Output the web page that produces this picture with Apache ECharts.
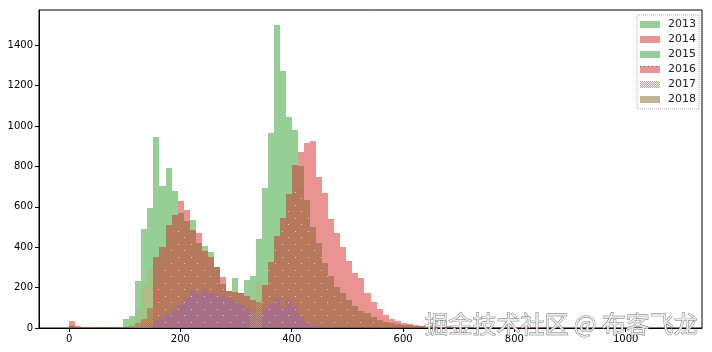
<!DOCTYPE html>
<html><head><meta charset="utf-8">
<script src="https://cdn.jsdelivr.net/npm/echarts@6/dist/echarts.min.js"></script>
<style>html,body{margin:0;padding:0;background:#fff}#c{width:712px;height:352px}</style>
</head><body><div id="c"></div>
<script>
// histogram bins: 100 bins from 0 to 1083
const binStart = 0;
const binWidth = 10.83;
const xTicks = [0, 200, 400, 600, 800, 1000];
const yTicks = [0, 200, 400, 600, 800, 1000, 1200, 1400];
const years = ['2013', '2014', '2015', '2016', '2017', '2018'];

const counts2013 = [12,6,4,3,3,3,3,4,6,45,
 58,233,490,593,945,703,790,680,568,530,
 534,420,406,378,303,220,185,247,173,237,
 257,440,691,966,1500,1272,1046,980,800,633,
 501,420,320,260,204,172,140,107,85,73,
 55,40,32,25,20,16,13,11,9,8,
 7,6,6,5,5,4,4,4,3,3,
 3,3,2,2,2,2,2,2,1,1,
 1,1,1,1,1,1,1,1,1,1,
 1,1,1,1,1,1,1,1,1,1];
const counts2014 = [35,10,5,3,3,3,3,3,4,6,
 12,25,45,100,350,400,510,562,630,584,
 485,470,380,350,303,251,185,180,173,160,
 140,130,213,327,455,544,663,806,872,917,
 925,749,667,540,470,400,330,270,250,175,
 130,95,65,45,35,25,20,15,12,12,
 12,10,10,10,9,8,7,7,6,6,
 5,5,4,4,4,3,3,3,3,3,
 2,2,2,2,2,2,2,2,2,2,
 1,1,1,1,1,1,1,1,1,1];
const counts2015 = [8,4,3,2,2,2,2,2,3,4,
 5,0,0,0,0,0,0,0,0,0,
 0,0,0,0,0,0,0,0,0,0,
 0,0,0,0,0,0,0,0,0,0,
 0,0,0,0,0,0,0,0,0,0,
 0,0,0,0,0,0,0,0,0,0,
 0,0,0,0,0,0,0,0,0,0,
 0,0,0,0,0,0,0,0,0,0,
 0,0,0,0,0,0,0,0,0,0,
 0,0,0,0,0,0,0,0,0,0];
const counts2016 = [20,0,0,0,0,0,0,0,0,0,
 0,0,0,60,250,330,420,450,480,460,
 420,380,340,300,260,200,160,150,140,120,
 100,90,180,300,420,500,600,700,700,560,
 440,370,280,230,180,150,120,95,75,60,
 45,35,25,20,15,12,10,8,6,5,
 3,3,2,2,1,1,0,0,0,0,
 0,0,0,0,0,0,0,0,0,0,
 0,0,0,0,0,0,0,0,0,0,
 0,0,0,0,0,0,0,0,0,0];
const counts2017 = [0,0,0,0,0,0,0,0,0,0,
 20,100,222,295,0,0,0,0,0,0,
 0,0,0,0,0,0,0,0,0,0,
 80,234,0,0,0,0,0,0,0,0,
 0,0,0,0,0,0,0,0,0,0,
 0,0,0,0,0,0,0,0,0,0,
 0,0,0,0,0,0,0,0,0,0,
 0,0,0,0,0,0,0,0,0,0,
 0,0,0,0,0,0,0,0,0,0,
 0,0,0,0,0,0,0,0,0,0];
const counts2018 = [0,0,0,0,0,0,0,0,0,0,
 2,5,10,20,35,50,70,90,115,150,
 185,170,190,175,170,160,150,135,115,95,
 80,70,95,120,150,100,145,110,60,30,
 15,8,5,3,2,1,0,0,0,0,
 0,0,0,0,0,0,0,0,0,0,
 0,0,0,0,0,0,0,0,0,0,
 0,0,0,0,0,0,0,0,0,0,
 0,0,0,0,0,0,0,0,0,0,
 0,0,0,0,0,0,0,0,0,0];

function makePattern(size, pts, color) {
  const cv = document.createElement('canvas');
  cv.width = size; cv.height = size;
  const ctx = cv.getContext('2d');
  ctx.fillStyle = color;
  pts.forEach(p => ctx.fillRect(p[0], p[1], 1, 1));
  return cv;
}
const dotPattern = makePattern(13, [[2,3],[9,10]], 'rgba(255,220,180,0.85)');
const hatchPattern = makePattern(2, [[0,0],[1,1]], 'rgba(185,170,95,0.6)');
const legendDotPattern = (function () {
  const cv = document.createElement('canvas');
  cv.width = 4; cv.height = 7;
  const ctx = cv.getContext('2d');
  ctx.fillStyle = 'rgb(234,148,148)';
  ctx.fillRect(0, 0, 4, 7);
  ctx.fillStyle = 'rgb(150,90,90)';
  ctx.fillRect(0, 0, 1, 1);
  return cv;
})();
const legendHatchPattern = (function () {
  const cv = document.createElement('canvas');
  cv.width = 2; cv.height = 2;
  const ctx = cv.getContext('2d');
  ctx.fillStyle = '#f2efe6';
  ctx.fillRect(0, 0, 2, 2);
  ctx.fillStyle = '#b8aa8c';
  ctx.fillRect(0, 0, 1, 1); ctx.fillRect(1, 1, 1, 1);
  return cv;
})();

function toData(arr) {
  return arr.map((v, k) => [binStart + k * binWidth, binStart + (k + 1) * binWidth, v]);
}
function makeRender(fill, pattern) {
  return function (params, api) {
    const v = api.value(2);
    if (!v) return null;
    const a = api.coord([api.value(0), v]);
    const b = api.coord([api.value(1), 0]);
    const X0 = Math.round(a[0]), X1 = Math.round(b[0]);
    const Y0 = Math.round(a[1]), Y1 = Math.round(b[1]);
    const shape = { x: X0, y: Y0, width: X1 - X0, height: Y1 - Y0 };
    const children = [];
    if (fill) children.push({ type: 'rect', shape: shape, style: { fill: fill } });
    if (pattern) children.push({ type: 'rect', shape: shape, style: { fill: { image: pattern, repeat: 'repeat' } } });
    return { type: 'group', children: children };
  };
}
const seriesDefs = [
  { name: '2015', data: counts2015, fill: 'rgba(44,160,44,0.5)', pattern: null, z: 1 },
  { name: '2013', data: counts2013, fill: 'rgba(44,160,44,0.5)', pattern: null, z: 2 },
  { name: '2014', data: counts2014, fill: 'rgba(214,39,40,0.5)', pattern: null, z: 3 },
  { name: '2018', data: counts2018, fill: 'rgba(148,103,189,0.45)', pattern: null, z: 4 },
  { name: '2016', data: counts2016, fill: 'rgba(214,39,40,0.04)', pattern: dotPattern, z: 5 },
  { name: '2017', data: counts2017, fill: null, pattern: hatchPattern, z: 6 }
];
const legendColors = {
  '2013': 'rgba(44,160,44,0.5)',
  '2014': 'rgba(214,39,40,0.5)',
  '2015': 'rgba(44,160,44,0.5)',
  '2016': { image: legendDotPattern, repeat: 'repeat' },
  '2017': { image: legendHatchPattern, repeat: 'repeat' },
  '2018': '#c2b497'
};

const chart = echarts.init(document.getElementById('c'), null, { renderer: 'canvas' });
chart.setOption({
  animation: false,
  grid: { left: 39, top: 10, right: 10, bottom: 24, show: true, borderColor: '#000', borderWidth: 1, backgroundColor: 'transparent' },
  legend: {
    orient: 'vertical', left: 637, top: 15,
    padding: [3, 3, 3, 3],
    itemWidth: 20, itemHeight: 7, itemGap: 2, icon: 'rect',
    borderColor: '#aaa', borderWidth: 1, borderType: 'dotted',
    textStyle: { fontSize: 11, lineHeight: 13, color: '#222', fontFamily: 'DejaVu Sans', padding: [0, 0, 0, 3] },
    data: years.map(y => ({ name: y, icon: 'rect', itemStyle: { color: legendColors[y] } }))
  },
  xAxis: {
    type: 'value', min: -54, max: 1137,
    axisLine: { show: true, onZero: false, lineStyle: { color: '#000', width: 1 } },
    axisTick: { show: true, length: 4, lineStyle: { color: '#000' }, customValues: xTicks },
    axisLabel: { fontSize: 10, color: '#000', fontFamily: 'DejaVu Sans', margin: 6, customValues: xTicks, formatter: v => String(v) },
    splitLine: { show: false }
  },
  yAxis: {
    type: 'value', min: 0, max: 1575,
    axisLine: { show: true, onZero: false, lineStyle: { color: '#000', width: 1 } },
    axisTick: { show: true, length: 4, lineStyle: { color: '#000' }, customValues: yTicks },
    axisLabel: { fontSize: 10, color: '#000', fontFamily: 'DejaVu Sans', margin: 6, customValues: yTicks, formatter: v => String(v) },
    splitLine: { show: false }
  },
  series: seriesDefs.map(s => ({
    name: s.name, type: 'custom', z: s.z,
    itemStyle: { color: typeof legendColors[s.name] === 'string' ? legendColors[s.name] : '#e89494' },
    renderItem: makeRender(s.fill, s.pattern),
    encode: { x: [0, 1], y: 2 },
    data: toData(s.data),
    silent: true
  })),
  graphic: [{
    type: 'text', left: 424, top: 311, z: 100,
    style: { text: '掘金技术社区 @ 布客飞龙', font: '24px "Noto Sans CJK SC"', fill: 'rgba(236,236,236,0.95)', stroke: '#6a6a6a', lineWidth: 0.8 }
  }]
});
</script></body></html>
